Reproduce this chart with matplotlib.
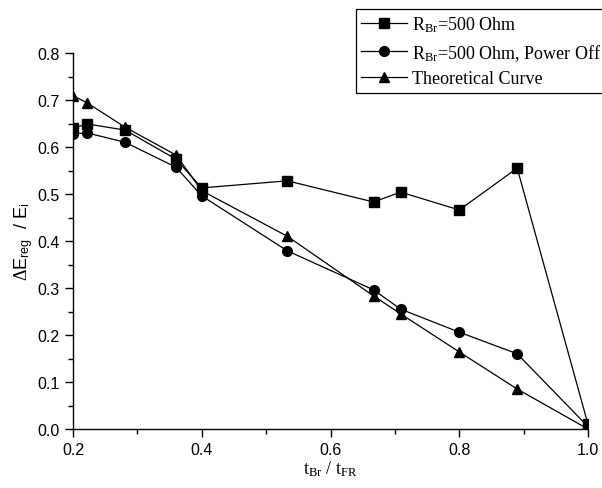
import matplotlib
matplotlib.use("Agg")
import matplotlib.pyplot as plt
from matplotlib.ticker import MultipleLocator

plt.rcParams['mathtext.fontset'] = 'custom'
plt.rcParams['mathtext.rm'] = 'Liberation Serif'
plt.rcParams['mathtext.sf'] = 'Liberation Sans'
plt.rcParams['mathtext.it'] = 'Liberation Serif:italic'

x = [0.2, 0.222, 0.281, 0.36, 0.40, 0.533, 0.667, 0.709, 0.80, 0.89, 1.0]
sq = [0.640, 0.649, 0.636, 0.574, 0.513, 0.528, 0.483, 0.504, 0.466, 0.555, 0.010]
ci = [0.628, 0.630, 0.610, 0.557, 0.496, 0.379, 0.296, 0.255, 0.206, 0.160, 0.005]
tr = [0.709, 0.694, 0.642, 0.583, 0.507, 0.410, 0.283, 0.245, 0.164, 0.085, 0.0]
labels = [r'R$_{\rm Br}$=500 Ohm', r'R$_{\rm Br}$=500 Ohm, Power Off', 'Theoretical Curve']

fig = plt.figure(figsize=(6.02, 4.89), dpi=100)
ax = fig.add_axes([73/602, 1-430/489, (588-73)/602, (430-54)/489])

kw = dict(color='black', lw=0.9, ms=7)
h1, = ax.plot(x, sq, marker='s', label=labels[0], **kw)
h2, = ax.plot(x, ci, marker='o', label=labels[1], **kw)
h3, = ax.plot(x, tr, marker='^', label=labels[2], **kw)

ax.set_xlim(0.2, 1.0)
ax.set_ylim(0.0, 0.8)
ax.xaxis.set_major_locator(MultipleLocator(0.2))
ax.xaxis.set_minor_locator(MultipleLocator(0.1))
ax.yaxis.set_major_locator(MultipleLocator(0.1))
ax.yaxis.set_minor_locator(MultipleLocator(0.05))
ax.xaxis.set_major_formatter(plt.FormatStrFormatter('%.1f'))
ax.yaxis.set_major_formatter(plt.FormatStrFormatter('%.1f'))
for s in ['top', 'right']:
    ax.spines[s].set_visible(False)
for s in ['left', 'bottom']:
    ax.spines[s].set_linewidth(1.0)
ax.tick_params(which='major', direction='out', length=6, width=1.0, labelsize=11.5)
ax.tick_params(which='minor', direction='out', length=3.5, width=1.0)
for t in ax.get_xticklabels() + ax.get_yticklabels():
    t.set_fontfamily('Liberation Sans')

ax.set_xlabel(r't$_{\rm Br}$ / t$_{\rm FR}$', fontfamily='Liberation Serif', fontsize=13, labelpad=1)
ax.set_ylabel(r'$\Delta$E$_{\mathsf{reg}}$  / E$_{\mathsf{i}}$', fontfamily='Liberation Sans', fontsize=13, labelpad=2)

leg = fig.legend(handles=[h1, h2, h3], loc='upper left', bbox_to_anchor=(356/602, 1-10/489),
                 prop={'family': 'Liberation Serif', 'size': 13}, frameon=True, fancybox=False,
                 edgecolor='black', framealpha=1, handlelength=2.5, handletextpad=0.3,
                 labelspacing=0.42, borderpad=0.3, borderaxespad=0)
leg.get_frame().set_linewidth(0.9)

fig.savefig('out.png', dpi=100)
